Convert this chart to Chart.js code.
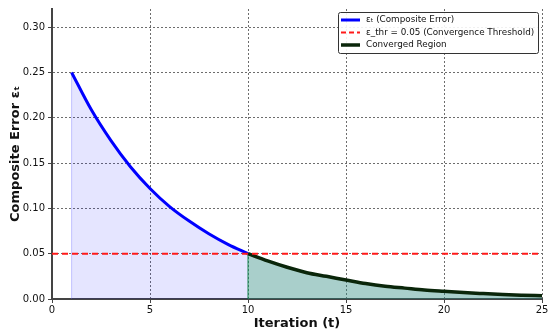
<!DOCTYPE html>
<html>
<head>
<meta charset="utf-8">
<script src="https://cdn.jsdelivr.net/npm/chart.js@4/dist/chart.umd.min.js"></script>
<style>
  html, body { margin: 0; padding: 0; background: #fff; }
  #wrap { width: 550px; height: 335px; }
</style>
</head>
<body>
<div id="wrap"><canvas id="error-chart" width="550" height="335"></canvas></div>
<script>
// data
const iterations = [1, 2, 3, 4, 5, 6, 7, 8, 9, 10, 11, 12, 13, 14, 15, 16, 17, 18, 19, 20, 21, 22, 23, 24, 25];
const compositeError = [0.250, 0.209, 0.175, 0.146, 0.122, 0.102, 0.086, 0.072, 0.060, 0.050,
    0.042, 0.035, 0.029, 0.025, 0.021, 0.017, 0.014, 0.012, 0.010, 0.0085,
    0.0071, 0.0060, 0.0050, 0.0042, 0.0035];
const threshold = 0.05;
const convergedFrom = 10;
const xTickValues = [0, 5, 10, 15, 20, 25];
const yTickValues = [0, 0.05, 0.10, 0.15, 0.20, 0.25, 0.30];
const legendLabels = ["\u03b5\u209c (Composite Error)", "\u03b5_thr = 0.05 (Convergence Threshold)", "Converged Region"];

const points = iterations.map((t, i) => ({ x: t, y: compositeError[i] }));
const before = points.filter((p) => p.x <= convergedFrom);
const after = points.filter((p) => p.x >= convergedFrom);
const firstPt = points[0];
const convPt = points.find((p) => p.x === convergedFrom);

const font = "DejaVu Sans";

// legend drawn inside the plot, top right
const legendBox = {
    id: "legendBox",
    afterDraw(chart) {
        const ctx = chart.ctx;
        const items = [
            { color: "#0000ff", width: 3, dash: [] },
            { color: "#ff1a1a", width: 2, dash: [5, 3] },
            { color: "#0a260a", width: 3.5, dash: [] },
        ];
        const x0 = 338, y0 = 12, w = 200, h = 41;
        ctx.save();
        ctx.fillStyle = "rgba(255,255,255,0.9)";
        ctx.strokeStyle = "#333";
        ctx.lineWidth = 1;
        ctx.beginPath();
        ctx.roundRect(x0 + 0.5, y0 + 0.5, w, h, 2);
        ctx.fill();
        ctx.stroke();
        ctx.font = "8.8px '" + font + "'";
        ctx.textBaseline = "middle";
        ctx.fillStyle = "#111";
        items.forEach((it, i) => {
            const y = y0 + 8 + i * 12.5;
            ctx.beginPath();
            ctx.strokeStyle = it.color;
            ctx.lineWidth = it.width;
            ctx.setLineDash(it.dash);
            ctx.moveTo(x0 + 3, y);
            ctx.lineTo(x0 + 22, y);
            ctx.stroke();
            ctx.setLineDash([]);
            ctx.fillText(legendLabels[i], x0 + 28, y);
        });
        ctx.restore();
    },
};

const gridOpts = {
    color: "rgba(60,60,60,0.75)",
    lineWidth: 1,
    tickBorderDash: [],
    tickColor: "#444",
    tickLength: 4,
};
const borderOpts = { display: true, color: "#444", width: 2, dash: [2, 2] };

const ctx = document.getElementById("error-chart").getContext("2d");
const errorChart = new Chart(ctx, {
    type: "line",
    data: {
        datasets: [
            {
                label: legendLabels[1],
                data: [{ x: 0, y: threshold }, { x: 25, y: threshold }],
                borderColor: "#ff1a1a",
                borderWidth: 2,
                borderDash: [6, 4],
                pointRadius: 0,
                fill: false,
            },
            {
                label: legendLabels[0],
                data: before,
                borderColor: "#0000ff",
                borderWidth: 3,
                pointRadius: 0,
                cubicInterpolationMode: "monotone",
                fill: "origin",
                backgroundColor: "rgba(0,0,255,0.1)",
            },
            {
                label: legendLabels[2],
                data: after,
                borderColor: "#0a260a",
                borderWidth: 3.5,
                pointRadius: 0,
                cubicInterpolationMode: "monotone",
                fill: "origin",
                backgroundColor: "rgba(40,135,125,0.4)",
            },
            {
                label: "edge start",
                data: [{ x: firstPt.x, y: 0 }, { x: firstPt.x, y: firstPt.y }],
                borderColor: "rgba(90,90,255,0.35)",
                borderWidth: 1,
                pointRadius: 0,
                fill: false,
            },
            {
                label: "edge converged",
                data: [{ x: convPt.x, y: 0 }, { x: convPt.x, y: convPt.y }],
                borderColor: "rgba(0,140,40,0.9)",
                borderWidth: 1,
                pointRadius: 0,
                fill: false,
            },
        ],
    },
    options: {
        responsive: false,
        animation: false,
        layout: { padding: { top: 7, right: 8, left: 0, bottom: 0 } },
        scales: {
            x: {
                type: "linear",
                min: 0,
                max: 25,
                afterBuildTicks: (scale) => {
                    scale.ticks = xTickValues.map((v) => ({ value: v }));
                },
                afterFit: (scale) => {
                    scale.height = 36;
                },
                ticks: {
                    color: "#111",
                    padding: 1,
                    font: { family: font, size: 10 },
                    callback: (v) => String(v),
                },
                grid: gridOpts,
                border: borderOpts,
                title: {
                    display: true,
                    text: "Iteration (t)",
                    color: "#111",
                    padding: { top: 2, bottom: 4 },
                    font: { family: font, size: 13, weight: "bold" },
                },
            },
            y: {
                type: "linear",
                min: 0,
                max: 0.32,
                afterBuildTicks: (scale) => {
                    scale.ticks = yTickValues.map((v) => ({ value: v }));
                },
                afterFit: (scale) => {
                    scale.width = 52;
                },
                ticks: {
                    color: "#111",
                    font: { family: font, size: 10 },
                    callback: (v) => Number(v).toFixed(2),
                },
                grid: gridOpts,
                border: borderOpts,
                title: {
                    display: true,
                    text: "Composite Error \u03b5\u209c",
                    color: "#111",
                    padding: { top: 8, bottom: 4 },
                    font: { family: font, size: 13, weight: "bold" },
                },
            },
        },
        plugins: {
            legend: { display: false },
            tooltip: { enabled: false },
        },
    },
    plugins: [legendBox],
});
</script>
</body>
</html>
